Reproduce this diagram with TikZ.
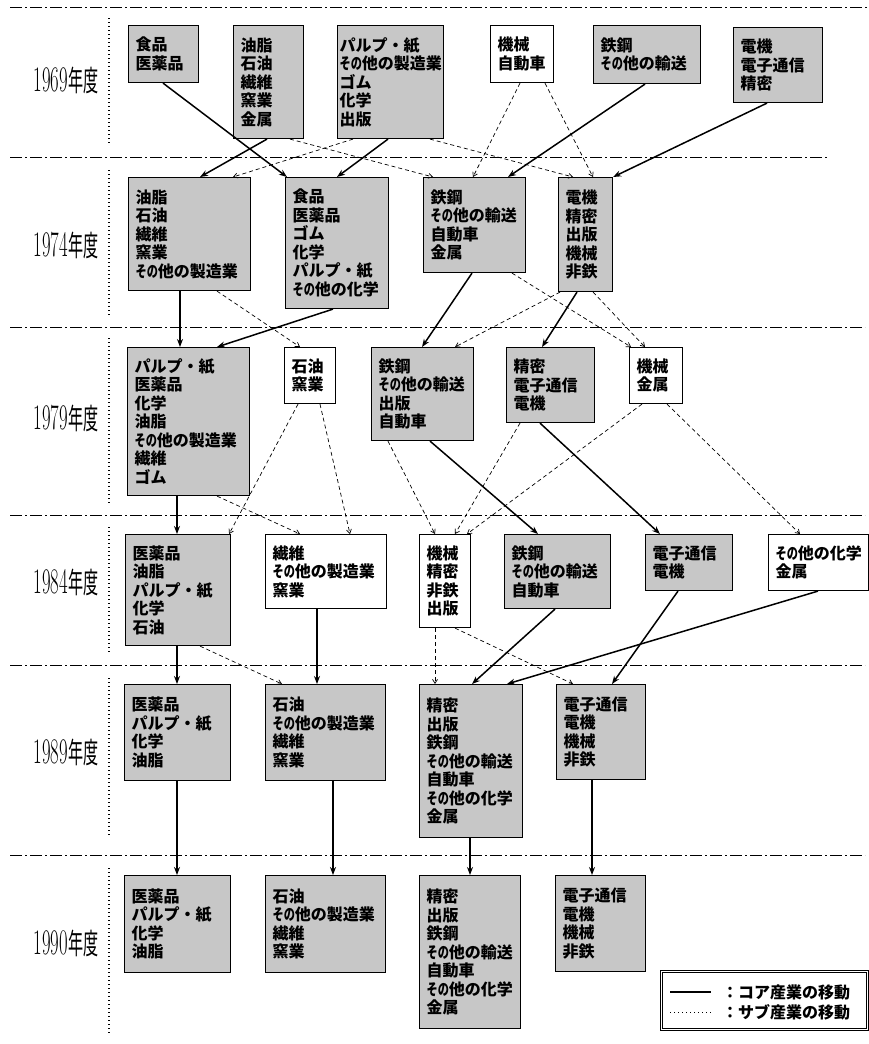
\documentclass[tikz,border=0pt]{standalone}
\usepackage{fontspec}
\usepackage{graphicx}
\usepackage{tikz}
\usetikzlibrary{
    arrows.meta
}
\newfontfamily\jpfont{Noto Sans CJK JP}
\definecolor{boxshade}{gray}{0.78}
\newcommand{\boxfont}{\jpfont\bfseries\fontsize{16}{18.5}\selectfont}
\newcommand{\sono}{\scalebox{0.7}[1]{その}}
\newcommand{\nendo}[1]{\scalebox{0.52}[1]{\fontsize{36}{36}\selectfont #1\jpfont\fontsize{29}{29}\selectfont 年度}}

\begin{document}
\begin{tikzpicture}[
        x=1pt,
        y=-1pt,
        corebox/.style={
            draw,
            line width=1.1pt,
            fill=boxshade,
            anchor=north west,
            align=left,
            font=\boxfont,
            inner xsep=7pt,
            inner ysep=3pt
        },
        subbox/.style={
            corebox,
            fill=white
        },
        core/.style={
            -{Stealth[length=8pt,width=6pt]},
            line width=1.5pt
        },
        sub/.style={
            -{Straight Barb[length=4pt,width=5pt]},
            line width=0.7pt,
            dash pattern=on 4pt off 3pt
        },
        sep/.style={
            line width=0.7pt,
            dash pattern=on 12pt off 3pt on 2pt off 3pt
        },
        guide/.style={
            line width=1.2pt,
            dash pattern=on 1.2pt off 2.8pt
        },
        year/.style={
            inner sep=0pt
        },
        legtext/.style={
            anchor=west,
            font=\boxfont,
            inner sep=0pt
        }
    ]

    \useasboundingbox (0,0) rectangle (869,1044);

    \draw[sep] (10,7) -- (867,7);
    \draw[sep] (10,157) -- (828,157);
    \draw[sep] (10,327) -- (865,327);
    \draw[sep] (10,515) -- (865,515);
    \draw[sep] (10,665) -- (865,665);
    \draw[sep] (10,855) -- (865,855);

    \draw[guide] (109,18) -- (109,145);
    \draw[guide] (109,170) -- (109,315);
    \draw[guide] (109,338) -- (109,503);
    \draw[guide] (109,527) -- (109,653);
    \draw[guide] (109,678) -- (109,835);
    \draw[guide] (109,868) -- (109,1033);

    \node[year] (y1969) at (66,80) {\nendo{1969}};
    \node[year] (y1974) at (66,245) {\nendo{1974}};
    \node[year] (y1979) at (66,418) {\nendo{1979}};
    \node[year] (y1984) at (66,582) {\nendo{1984}};
    \node[year] (y1989) at (66,752) {\nendo{1989}};
    \node[year] (y1990) at (66,943) {\nendo{1990}};

    \node[corebox, text width=56pt, minimum height=57pt] (a1) at (128,25) {
        食品\\医薬品
    };
    \node[corebox, text width=56pt, minimum height=113pt] (a2) at (233,25) {
        油脂\\石油\\繊維\\窯業\\金属
    };
    \node[corebox, inner xsep=2pt, text width=102pt, minimum height=113pt] (a3) at (337,25) {
        パルプ・紙\\\sono 他の製造業\\ゴム\\化学\\出版
    };
    \node[subbox, text width=49pt, minimum height=57pt] (a4) at (490,25) {
        機械\\自動車
    };
    \node[corebox, text width=93pt, minimum height=58pt] (a5) at (593,25) {
        鉄鋼\\\sono 他の輸送
    };
    \node[corebox, text width=75pt, minimum height=75pt] (a6) at (733,27) {
        電機\\電子通信\\精密
    };

    \node[corebox, text width=108pt, minimum height=113pt] (b1) at (128,177) {
        油脂\\石油\\繊維\\窯業\\\sono 他の製造業
    };
    \node[corebox, text width=89pt, minimum height=131pt] (b2) at (285,177) {
        食品\\医薬品\\ゴム\\化学\\パルプ・紙\\\sono 他の化学
    };
    \node[corebox, text width=88pt, minimum height=95pt] (b3) at (423,177) {
        鉄鋼\\\sono 他の輸送\\自動車\\金属
    };
    \node[corebox, text width=40pt, minimum height=114pt] (b4) at (558,177) {
        電機\\精密\\出版\\機械\\非鉄
    };

    \node[corebox, text width=108pt, minimum height=148pt] (c1) at (127,347) {
        パルプ・紙\\医薬品\\化学\\油脂\\\sono 他の製造業\\繊維\\ゴム
    };
    \node[subbox, text width=37pt, minimum height=56pt] (c2) at (284,347) {
        石油\\窯業
    };
    \node[corebox, text width=88pt, minimum height=93pt] (c3) at (371,347) {
        鉄鋼\\\sono 他の輸送\\出版\\自動車
    };
    \node[corebox, text width=74pt, minimum height=75pt] (c4) at (506,347) {
        精密\\電子通信\\電機
    };
    \node[subbox, text width=39pt, minimum height=56pt] (c5) at (629,347) {
        機械\\金属
    };

    \node[corebox, text width=91pt, minimum height=111pt] (d1) at (125,534) {
        医薬品\\油脂\\パルプ・紙\\化学\\石油
    };
    \node[subbox, text width=107pt, minimum height=74pt] (d2) at (265,534) {
        繊維\\\sono 他の製造業\\窯業
    };
    \node[subbox, text width=37pt, minimum height=93pt] (d3) at (419,534) {
        機械\\精密\\非鉄\\出版
    };
    \node[corebox, text width=92pt, minimum height=74pt] (d4) at (504,534) {
        鉄鋼\\\sono 他の輸送\\自動車
    };
    \node[corebox, text width=73pt, minimum height=56pt] (d5) at (645,534) {
        電子通信\\電機
    };
    \node[subbox, text width=86pt, minimum height=56pt] (d6) at (768,534) {
        \sono 他の化学\\金属
    };

    \node[corebox, text width=92pt, minimum height=96pt] (e1) at (124,684) {
        医薬品\\パルプ・紙\\化学\\油脂
    };
    \node[corebox, text width=106pt, minimum height=96pt] (e2) at (265,684) {
        石油\\\sono 他の製造業\\繊維\\窯業
    };
    \node[corebox, text width=89pt, minimum height=153pt] (e3) at (419,684) {
        精密\\出版\\鉄鋼\\\sono 他の輸送\\自動車\\\sono 他の化学\\金属
    };
    \node[corebox, text width=75pt, minimum height=95pt] (e4) at (556,684) {
        電子通信\\電機\\機械\\非鉄
    };

    \node[corebox, text width=92pt, minimum height=97pt] (f1) at (124,875) {
        医薬品\\パルプ・紙\\化学\\油脂
    };
    \node[corebox, text width=106pt, minimum height=97pt] (f2) at (265,875) {
        石油\\\sono 他の製造業\\繊維\\窯業
    };
    \node[corebox, text width=87pt, minimum height=153pt] (f3) at (419,875) {
        精密\\出版\\鉄鋼\\\sono 他の輸送\\自動車\\\sono 他の化学\\金属
    };
    \node[corebox, text width=76pt, minimum height=96pt] (f4) at (555,875) {
        電子通信\\電機\\機械\\非鉄
    };

    \draw[core] ([xshift=35pt]a1.south west) -- ([xshift=2pt]b2.north west);
    \draw[core] ([xshift=34pt]a2.south west) -- ([xshift=72pt]b1.north west);
    \draw[core] ([xshift=51pt]a3.south west) -- ([xshift=52pt]b2.north west);
    \draw[core] ([xshift=52pt]a5.south west) -- ([xshift=85pt]b3.north west);
    \draw[core] ([xshift=34pt]a6.south west) -- (b4.north east);
    \draw[sub] ([xshift=16pt]a3.south west) -- ([xshift=105pt]b1.north west);
    \draw[sub] ([xshift=57pt]a2.south west) -- ([xshift=10pt]b3.north west);
    \draw[sub] ([xshift=93pt]a3.south west) -- ([xshift=15pt]b4.north west);
    \draw[sub] ([xshift=30pt]a4.south west) -- ([xshift=50pt]b3.north west);
    \draw[sub] ([xshift=55pt]a4.south west) -- ([xshift=35pt]b4.north west);

    \draw[core] ([xshift=52pt]b1.south west) -- ([xshift=53pt]c1.north west);
    \draw[core] ([xshift=48pt]b2.south west) -- ([xshift=90pt]c1.north west);
    \draw[sub] ([xshift=89pt]b1.south west) -- ([xshift=16pt]c2.north west);
    \draw[core] ([xshift=49pt]b3.south west) -- ([xshift=51pt]c3.north west);
    \draw[sub] ([xshift=2pt]b4.south west) -- ([xshift=84pt]c3.north west);
    \draw[core] ([xshift=19pt]b4.south west) -- ([xshift=36pt]c4.north west);
    \draw[sub] ([xshift=89pt]b3.south west) -- ([xshift=2pt]c5.north west);
    \draw[sub] ([xshift=35pt]b4.south west) -- ([xshift=16pt]c5.north west);

    \draw[core] ([xshift=50pt]c1.south west) -- ([xshift=52pt]d1.north west);
    \draw[sub] ([xshift=90pt]c1.south west) -- ([xshift=35pt]d2.north west);
    \draw[sub] ([xshift=14pt]c2.south west) -- ([xshift=-2pt]d1.north east);
    \draw[sub] ([xshift=36pt]c2.south west) -- ([xshift=85pt]d2.north west);
    \draw[sub] ([xshift=17pt]c3.south west) -- ([xshift=16pt]d3.north west);
    \draw[core] ([xshift=59pt]c3.south west) -- ([xshift=34pt]d4.north west);
    \draw[sub] ([xshift=14pt]c4.south west) -- ([xshift=36pt]d3.north west);
    \draw[core] ([xshift=34pt]c4.south west) -- ([xshift=15pt]d5.north west);
    \draw[sub] ([xshift=13pt]c5.south west) -- ([xshift=48pt]d3.north west);
    \draw[sub] ([xshift=38pt]c5.south west) -- ([xshift=32pt]d6.north west);

    \draw[core] ([xshift=52pt]d1.south west) -- ([xshift=53pt]e1.north west);
    \draw[sub] ([xshift=75pt]d1.south west) -- ([xshift=17pt]e2.north west);
    \draw[core] ([xshift=52pt]d2.south west) -- ([xshift=52pt]e2.north west);
    \draw[sub] ([xshift=16pt]d3.south west) -- ([xshift=16pt]e3.north west);
    \draw[sub] ([xshift=36pt]d3.south west) -- ([xshift=17pt]e4.north west);
    \draw[core] ([xshift=51pt]d4.south west) -- ([xshift=53pt]e3.north west);
    \draw[core] ([xshift=50pt]d6.south west) -- ([xshift=88pt]e3.north west);
    \draw[core] ([xshift=33pt]d5.south west) -- ([xshift=56pt]e4.north west);

    \draw[core] ([xshift=53pt]e1.south west) -- ([xshift=53pt]f1.north west);
    \draw[core] ([xshift=68pt]e2.south west) -- ([xshift=68pt]f2.north west);
    \draw[core] ([xshift=51pt]e3.south west) -- ([xshift=51pt]f3.north west);
    \draw[core] ([xshift=36pt]e4.south west) -- ([xshift=37pt]f4.north west);

    \node[draw, double, line width=0.9pt, double distance=1.4pt, anchor=north west,
        minimum width=206pt, minimum height=58pt] (legend) at (661,971) {};
    \node[legtext] (coretxt) at (722,992) {：コア産業の移動};
    \node[legtext] (subtxt) at (722,1012) {：サブ産業の移動};
    \coordinate (corea) at (670,992);
    \coordinate (coreb) at (711,992);
    \coordinate (suba) at (670,1012);
    \coordinate (subb) at (711,1012);
    \draw[line width=1.5pt] (corea) -- (coreb);
    \draw[line width=0.8pt, dash pattern=on 1pt off 3pt] (suba) -- (subb);

\end{tikzpicture}
\end{document}
